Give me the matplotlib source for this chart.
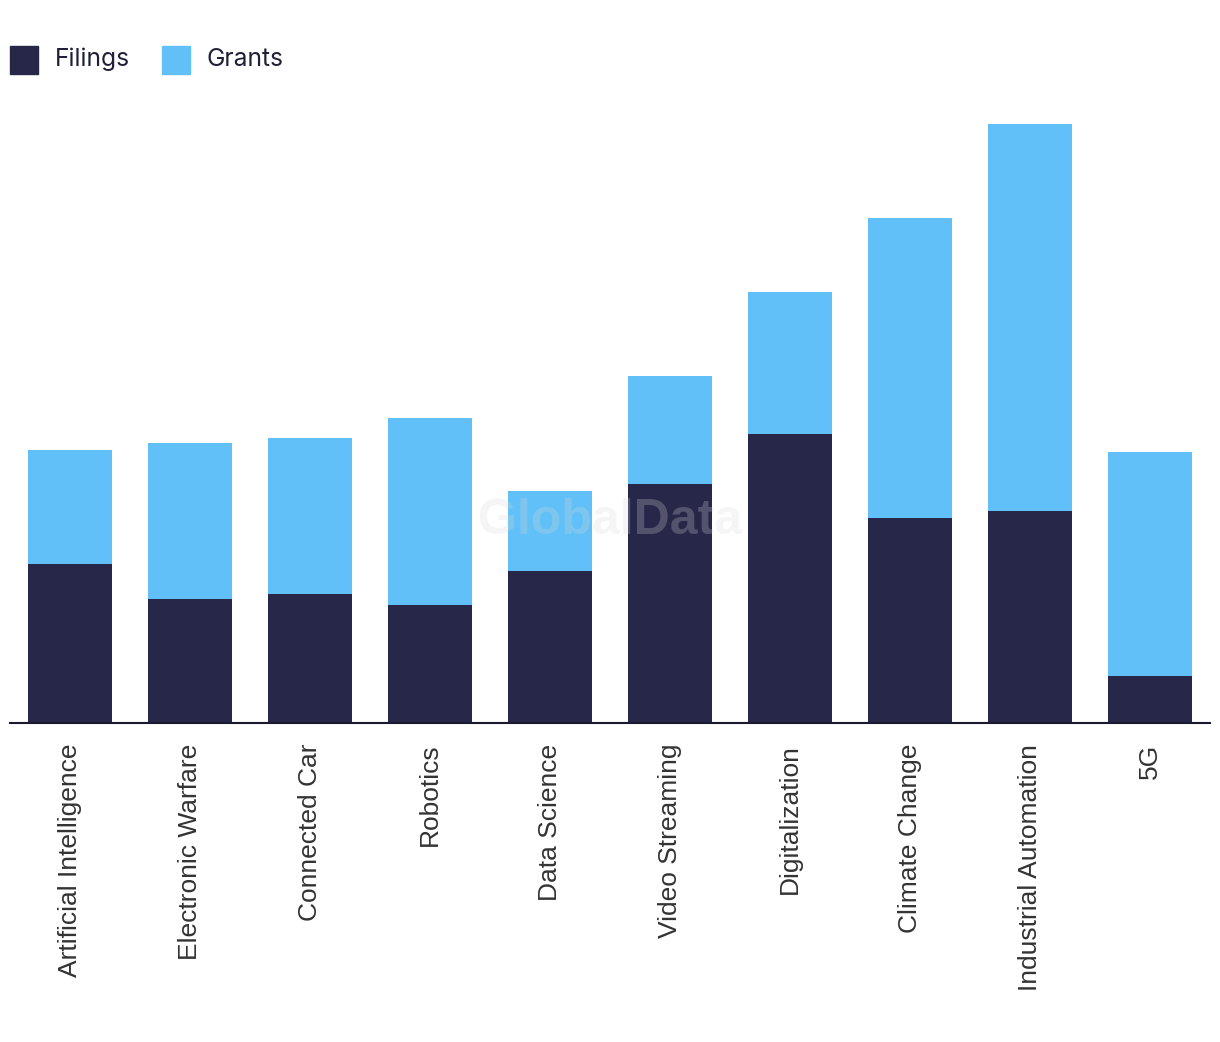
import numpy as np
import matplotlib.pyplot as plt
from matplotlib.patches import Rectangle

categories = ['Artificial Intelligence', 'Electronic Warfare', 'Connected Car', 'Robotics',
              'Data Science', 'Video Streaming', 'Digitalization', 'Climate Change',
              'Industrial Automation', '5G']
filings = [159, 124, 129, 118, 152, 239, 289, 205, 212, 47]
grants = [114, 156, 156, 187, 80, 108, 142, 300, 387, 224]

DARK = '#27274a'
LIGHT = '#62c0f8'

fig = plt.figure(figsize=(12.2, 10.42), dpi=100)
ax = fig.add_axes([10 / 1220, 319 / 1042, 1200 / 1220, 623 / 1042])

x = np.arange(len(categories))
ax.bar(x, filings, width=0.7, color=DARK, zorder=2)
ax.bar(x, grants, width=0.7, bottom=filings, color=LIGHT, zorder=2)

ax.set_xlim(-0.5, len(categories) - 0.5)
ax.set_ylim(0, 623)
ax.set_yticks([])
ax.set_xticks(x)
ax.set_xticklabels(categories, rotation=90, fontsize=19, family='Liberation Sans',
                   color='#333333', va='top', ha='center')
ax.tick_params(axis='x', length=0, pad=15)
for s in ['top', 'right', 'left']:
    ax.spines[s].set_visible(False)
ax.spines['bottom'].set_color('#1a1a2e')
ax.spines['bottom'].set_linewidth(1.5)
ax.spines['bottom'].set_zorder(3)

# watermark
fig.text(610 / 1220, 1 - 521 / 1042, 'GlobalData', fontsize=36, fontweight='bold',
         family='Liberation Sans', color='#d8d8d8', alpha=0.25, ha='center', va='center',
         zorder=5)

# legend
for lx, tx, col, lab in [(10, 55, DARK, 'Filings'), (162, 206, LIGHT, 'Grants')]:
    fig.patches.append(Rectangle((lx / 1220, 1 - 74 / 1042), 28 / 1220, 28 / 1042,
                                 transform=fig.transFigure, color=col))
    fig.text(tx / 1220, 1 - 59 / 1042, lab, fontsize=17.7, family='Inter',
             color='#1f2038', va='center', ha='left')

fig.savefig('out.png', dpi=100)
